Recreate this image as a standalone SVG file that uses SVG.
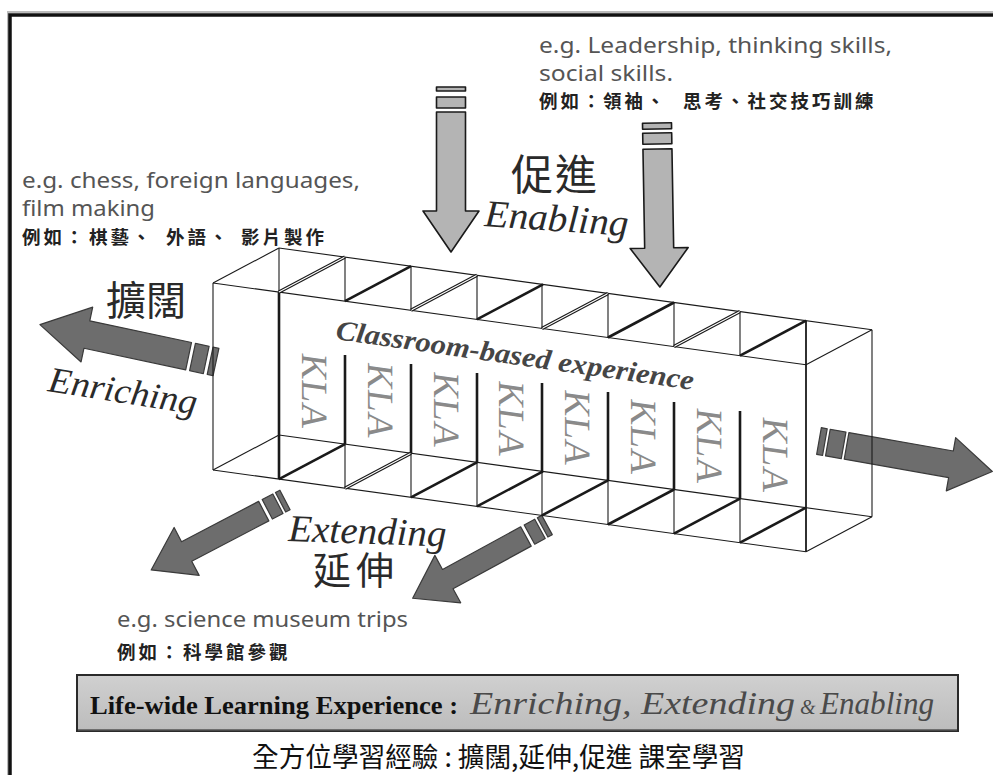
<svg xmlns="http://www.w3.org/2000/svg" width="993" height="775" viewBox="0 0 993 775">
<defs>
<style>
.eg{font-family:"Noto Sans","DejaVu Sans",sans-serif;font-size:21px;fill:#555}
.cjk{font-family:"Noto Sans CJK TC","Noto Sans CJK SC",sans-serif;font-weight:bold;font-size:18.5px;letter-spacing:3px;fill:#222}
.lab{font-family:"Noto Sans CJK TC","Noto Sans CJK SC",sans-serif;fill:#2a2a2a}
.scr{font-family:"Liberation Serif","DejaVu Serif",serif;font-style:italic;fill:#2a2a2a}
.kla{font-family:"Liberation Serif","DejaVu Serif",serif;font-size:37px;fill:#8a8a8a}
.light{fill:#b4b4b4;stroke:#1a1a1a;stroke-width:1.6;stroke-linejoin:round}
.dark{fill:#6d6d6d;stroke:#3a3a3a;stroke-width:1.2;stroke-linejoin:round}
.thin{stroke:#1a1a1a;stroke-width:1.1;fill:none}
.med{stroke:#1a1a1a;stroke-width:1.8;fill:none}
.thick{stroke:#1a1a1a;stroke-width:2.6;fill:none}
.dbl{stroke:#1a1a1a;stroke-width:3.4;fill:none}
.dbli{stroke:#fff;stroke-width:1.1;fill:none}
</style>
<linearGradient id="bg" x1="0" y1="0" x2="0" y2="1">
<stop offset="0" stop-color="#d0d0d0"/>
<stop offset="1" stop-color="#bcbcbc"/>
</linearGradient>
</defs>
<rect width="993" height="775" fill="#fff"/>
<!-- frame -->
<path d="M8,780 V12 H1000" fill="none" stroke="#bbb" stroke-width="2"/>
<path d="M10,780 V15 H1000" fill="none" stroke="#111" stroke-width="3.5"/>

<!-- connectors (arrows) -->
<g id="connectors">
<g id="arrow-enabling-1" transform="translate(451,87) rotate(90)">
<rect class="light" x="0" y="-14.5" width="4" height="29"/>
<rect class="light" x="10" y="-14.5" width="11" height="29"/>
<polygon class="light" points="25,-14.5 124,-14.5 124,-28 165,0 124,28 124,14.5 25,14.5"/>
</g>
<g id="arrow-enabling-2" transform="translate(657,123) rotate(89)">
<rect class="light" x="0" y="-14.5" width="6" height="29"/>
<rect class="light" x="10" y="-14.5" width="11" height="29"/>
<polygon class="light" points="26,-14.5 125,-14.5 125,-29 164,0 125,29 125,14.5 26,14.5"/>
</g>
<g id="arrow-enriching-left" transform="translate(216,362) rotate(192)">
<rect class="dark" x="0" y="-14" width="6" height="28"/>
<rect class="dark" x="10" y="-14" width="14" height="28"/>
<polygon class="dark" points="28,-14 132,-14 132,-28 180,0 132,28 132,14 28,14"/>
</g>
<g id="arrow-enriching-right" transform="translate(819,441) rotate(10)">
<rect class="dark" x="0" y="-13.5" width="6" height="27"/>
<rect class="dark" x="9" y="-13.5" width="16" height="27"/>
<polygon class="dark" points="28,-13.5 134,-13.5 134,-27 176,0 134,27 134,13.5 28,13.5"/>
</g>
<g id="arrow-extending-left" transform="translate(285,500) rotate(152.4)">
<rect class="dark" x="0" y="-11" width="5" height="22"/>
<rect class="dark" x="8" y="-11" width="12" height="22"/>
<polygon class="dark" points="24,-11 111,-11 111,-27 151,0 111,27 111,11 24,11"/>
</g>
<g id="arrow-extending-right" transform="translate(547,525) rotate(151.4)">
<rect class="dark" x="0" y="-11" width="5" height="22"/>
<rect class="dark" x="8" y="-11" width="12" height="22"/>
<polygon class="dark" points="24,-11 113,-11 113,-27 153,0 113,27 113,11 24,11"/>
</g>
</g>

<!-- box of KLA cells -->
<g id="classroom-box">
<line class="thin" x1="213" y1="283" x2="806" y2="364.8"/>
<line class="thin" x1="213" y1="470" x2="806" y2="551.8"/>
<line class="thin" x1="279" y1="248" x2="872" y2="329.8"/>
<line class="thin" x1="279" y1="435" x2="872" y2="516.8"/>
<line class="thin" x1="213" y1="283" x2="213" y2="470"/>
<line class="thin" x1="279" y1="248" x2="279" y2="292.1"/>
<line class="thick" x1="279" y1="292.1" x2="279" y2="479.1"/>
<line class="med" x1="806" y1="320.7" x2="806" y2="551.8"/>
<line class="thin" x1="872" y1="329.8" x2="872" y2="516.8"/>
<line class="thin" x1="213" y1="283" x2="279" y2="248"/>
<line class="dbl" x1="279" y1="292.1" x2="345" y2="257.1"/><line class="dbli" x1="279" y1="292.1" x2="345" y2="257.1"/>
<line class="thick" x1="345" y1="301.2" x2="411" y2="266.2"/>
<line class="dbl" x1="411" y1="310.3" x2="477" y2="275.3"/><line class="dbli" x1="411" y1="310.3" x2="477" y2="275.3"/>
<line class="thick" x1="477" y1="319.4" x2="543" y2="284.4"/>
<line class="dbl" x1="542" y1="328.4" x2="608" y2="293.4"/><line class="dbli" x1="542" y1="328.4" x2="608" y2="293.4"/>
<line class="thick" x1="608" y1="337.5" x2="674" y2="302.5"/>
<line class="dbl" x1="674" y1="346.6" x2="740" y2="311.6"/><line class="dbli" x1="674" y1="346.6" x2="740" y2="311.6"/>
<line class="thick" x1="740" y1="355.7" x2="806" y2="320.7"/>
<line class="thin" x1="806" y1="364.8" x2="872" y2="329.8"/>
<line class="thin" x1="213" y1="470" x2="279" y2="435"/>
<line class="thick" x1="279" y1="479.1" x2="345" y2="444.1"/>
<line class="dbl" x1="345" y1="488.2" x2="411" y2="453.2"/><line class="dbli" x1="345" y1="488.2" x2="411" y2="453.2"/>
<line class="thick" x1="411" y1="497.3" x2="477" y2="462.3"/>
<line class="thick" x1="477" y1="506.4" x2="543" y2="471.4"/>
<line class="thick" x1="542" y1="515.4" x2="608" y2="480.4"/>
<line class="thick" x1="608" y1="524.5" x2="674" y2="489.5"/>
<line class="thick" x1="674" y1="533.6" x2="740" y2="498.6"/>
<line class="thick" x1="740" y1="542.7" x2="806" y2="507.7"/>
<line class="thin" x1="806" y1="551.8" x2="872" y2="516.8"/>
<g>
<line class="thin" x1="345" y1="257.1" x2="345" y2="301.2"/><line class="thick" x1="345" y1="355" x2="345" y2="444.1"/><line class="thin" x1="345" y1="444.1" x2="345" y2="488.2"/>
<line class="thin" x1="411" y1="266.2" x2="411" y2="310.3"/><line class="thick" x1="411" y1="364" x2="411" y2="453.2"/><line class="thin" x1="411" y1="453.2" x2="411" y2="497.3"/>
<line class="thin" x1="477" y1="275.3" x2="477" y2="319.4"/><line class="thick" x1="477" y1="373" x2="477" y2="462.3"/><line class="thin" x1="477" y1="462.3" x2="477" y2="506.4"/>
<line class="thin" x1="542" y1="284.4" x2="542" y2="328.4"/><line class="thick" x1="542" y1="383" x2="542" y2="471.4"/><line class="thin" x1="542" y1="471.4" x2="542" y2="515.4"/>
<line class="thin" x1="608" y1="293.4" x2="608" y2="337.5"/><line class="thick" x1="608" y1="392" x2="608" y2="480.4"/><line class="thin" x1="608" y1="480.4" x2="608" y2="524.5"/>
<line class="thin" x1="674" y1="302.5" x2="674" y2="346.6"/><line class="thick" x1="674" y1="402" x2="674" y2="489.5"/><line class="thin" x1="674" y1="489.5" x2="674" y2="533.6"/>
<line class="thin" x1="740" y1="311.6" x2="740" y2="355.7"/><line class="thick" x1="740" y1="411" x2="740" y2="498.6"/><line class="thin" x1="740" y1="498.6" x2="740" y2="542.7"/>
</g>
<text transform="translate(335,339) rotate(8.1)" font-family="Liberation Serif, DejaVu Serif, serif" font-size="28" font-weight="bold" font-style="italic" fill="#454545" textLength="361" lengthAdjust="spacingAndGlyphs">Classroom-based experience</text>
</g>

<g id="kla-1" transform="translate(314,392) skewY(8) rotate(90)"><text class="kla" x="0" y="12" text-anchor="middle">KLA</text></g>
<g id="kla-2" transform="translate(380,401.5) skewY(8) rotate(90)"><text class="kla" x="0" y="12" text-anchor="middle">KLA</text></g>
<g id="kla-3" transform="translate(446,410.6) skewY(8) rotate(90)"><text class="kla" x="0" y="12" text-anchor="middle">KLA</text></g>
<g id="kla-4" transform="translate(511,419.6) skewY(8) rotate(90)"><text class="kla" x="0" y="12" text-anchor="middle">KLA</text></g>
<g id="kla-5" transform="translate(577,428.7) skewY(8) rotate(90)"><text class="kla" x="0" y="12" text-anchor="middle">KLA</text></g>
<g id="kla-6" transform="translate(643,437.8) skewY(8) rotate(90)"><text class="kla" x="0" y="12" text-anchor="middle">KLA</text></g>
<g id="kla-7" transform="translate(709,446.9) skewY(8) rotate(90)"><text class="kla" x="0" y="12" text-anchor="middle">KLA</text></g>
<g id="kla-8" transform="translate(775,456) skewY(8) rotate(90)"><text class="kla" x="0" y="12" text-anchor="middle">KLA</text></g>

<!-- labels -->
<g id="label-enriching">
<text class="lab" x="106" y="315" font-size="40">擴闊</text>
<text class="scr" transform="translate(47,391) rotate(9)" font-size="36" textLength="150" lengthAdjust="spacingAndGlyphs">Enriching</text>
</g>
<g id="label-enabling">
<text class="lab" x="511" y="190" font-size="42" letter-spacing="2">促進</text>
<text class="scr" transform="translate(484,226) rotate(4)" font-size="38" textLength="144" lengthAdjust="spacingAndGlyphs">Enabling</text>
</g>
<g id="label-extending">
<text class="scr" transform="translate(288,541) rotate(2)" font-size="38" textLength="158" lengthAdjust="spacingAndGlyphs">Extending</text>
<text class="lab" x="313" y="584" font-size="38" letter-spacing="5">延伸</text>
</g>

<!-- examples -->
<g id="example-enriching">
<text class="eg" x="22" y="188" textLength="338" lengthAdjust="spacingAndGlyphs">e.g. chess, foreign languages,</text>
<text class="eg" x="22" y="216" textLength="133" lengthAdjust="spacingAndGlyphs">film making</text>
<text class="cjk" y="244"><tspan x="22">例如：</tspan><tspan x="89">棋藝、</tspan><tspan x="166">外語、</tspan><tspan x="241">影片製作</tspan></text>
</g>
<g id="example-enabling">
<text class="eg" x="539" y="53" textLength="353" lengthAdjust="spacingAndGlyphs">e.g. Leadership, thinking skills,</text>
<text class="eg" x="539" y="81" textLength="134" lengthAdjust="spacingAndGlyphs">social skills.</text>
<text class="cjk" y="108"><tspan x="539">例如：</tspan><tspan x="603">領袖、</tspan><tspan x="683">思考、社交技巧訓練</tspan></text>
</g>
<g id="example-extending">
<text class="eg" x="117" y="627" textLength="291" lengthAdjust="spacingAndGlyphs">e.g. science museum trips</text>
<text class="cjk" y="659"><tspan x="117">例如：</tspan><tspan x="183">科學館參觀</tspan></text>
</g>

<!-- banner -->
<g id="banner">
<rect x="77" y="675" width="881" height="56" fill="url(#bg)" stroke="#2a2a2a" stroke-width="2"/>
<line x1="78" y1="730" x2="957" y2="730" stroke="#555" stroke-width="1.5"/>
<text x="90" y="714" font-family="Liberation Serif, DejaVu Serif, serif" font-weight="bold" font-size="26" fill="#111" textLength="368" lengthAdjust="spacingAndGlyphs">Life-wide Learning Experience :</text>
<text class="scr" x="470" y="714" font-size="32" style="fill:#4a4a4a" textLength="325" lengthAdjust="spacingAndGlyphs">Enriching, Extending</text>
<text class="scr" x="800" y="714" font-size="20" style="fill:#4a4a4a">&amp;</text>
<text class="scr" x="820" y="714" font-size="32" style="fill:#4a4a4a" textLength="114" lengthAdjust="spacingAndGlyphs">Enabling</text>
</g>
<g id="caption">
<text x="252" y="767" font-family="Noto Sans CJK TC, Noto Sans CJK SC, sans-serif" font-size="27" fill="#111" textLength="493" lengthAdjust="spacingAndGlyphs">全方位學習經驗 : 擴闊,延伸,促進 課室學習</text>
</g>
</svg>
